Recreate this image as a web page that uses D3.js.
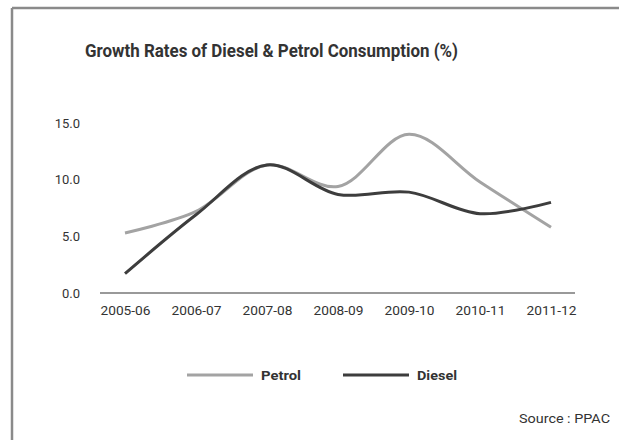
<!DOCTYPE html>
<html>
<head>
<meta charset="utf-8">
<script src="https://cdn.jsdelivr.net/npm/d3@7"></script>
<style>
  body { margin: 0; background: #fff; }
  text { font-family: "Roboto", "Liberation Sans", sans-serif; }
</style>
</head>
<body>
<script>
// data
var years = ["2005-06", "2006-07", "2007-08", "2008-09", "2009-10", "2010-11", "2011-12"];
var petrol = [5.3, 7.2, 11.3, 9.4, 14.0, 9.8, 5.8];
var diesel = [1.7, 6.9, 11.3, 8.7, 8.9, 7.0, 8.0];
var yTicks = [0, 5, 10, 15];

var width = 619, height = 440;

var svg = d3.select("body").append("svg")
    .attr("width", width)
    .attr("height", height);

// frame
svg.append("line").attr("x1", 12).attr("x2", width).attr("y1", 8).attr("y2", 8)
    .attr("stroke", "#8a8a8a").attr("stroke-width", 2.5);
svg.append("line").attr("x1", 12).attr("x2", 12).attr("y1", 8).attr("y2", 440)
    .attr("stroke", "#8a8a8a").attr("stroke-width", 2.5);

// title (condensed look)
svg.append("text")
    .attr("x", 85).attr("y", 57)
    .attr("font-size", "18px")
    .attr("font-weight", "bold")
    .attr("fill", "#333")
    .attr("textLength", 373)
    .attr("lengthAdjust", "spacingAndGlyphs")
    .text("Growth Rates of Diesel & Petrol Consumption (%)");

var x = d3.scalePoint().domain(years).range([125, 551]);
var y = d3.scaleLinear().domain([0, 15]).range([293, 123]);

// x axis
svg.append("line").attr("x1", 100).attr("x2", 575).attr("y1", y(0)).attr("y2", y(0))
    .attr("stroke", "#777").attr("stroke-width", 1.5);

var xAxis = svg.append("g")
    .attr("transform", "translate(0," + y(0) + ")")
    .call(d3.axisBottom(x).tickSize(0).tickPadding(13));
xAxis.select(".domain").remove();
xAxis.selectAll("text")
    .attr("font-size", "13px").attr("fill", "#333")
    .attr("textLength", 50).attr("lengthAdjust", "spacingAndGlyphs")
    .style("font-family", "Roboto, sans-serif");

// y axis
var yAxis = svg.append("g")
    .attr("transform", "translate(80,0)")
    .call(d3.axisLeft(y).tickValues(yTicks).tickFormat(d3.format(".1f")).tickSize(0).tickPadding(0));
yAxis.select(".domain").remove();
yAxis.selectAll("text").attr("font-size", "13px").attr("fill", "#333")
    .style("font-family", "Roboto, sans-serif");

var line = d3.line()
    .x(function(d, i) { return x(years[i]); })
    .y(function(d) { return y(d); })
    .curve(d3.curveCatmullRom.alpha(0.5));

svg.append("path").datum(petrol)
    .attr("d", line)
    .attr("fill", "none")
    .attr("stroke", "#a3a3a3")
    .attr("stroke-width", 3);

svg.append("path").datum(diesel)
    .attr("d", line)
    .attr("fill", "none")
    .attr("stroke", "#3d3d3d")
    .attr("stroke-width", 3);

// legend
var legend = [
  {name: "Petrol", color: "#a3a3a3", x: 187},
  {name: "Diesel", color: "#3d3d3d", x: 343}
];
legend.forEach(function(l) {
  svg.append("line").attr("x1", l.x).attr("x2", l.x + 66).attr("y1", 375).attr("y2", 375)
      .attr("stroke", l.color).attr("stroke-width", 3);
  svg.append("text").attr("x", l.x + 74).attr("y", 380)
      .attr("font-size", "13px").attr("font-weight", "bold").attr("fill", "#333")
      .attr("textLength", 40).attr("lengthAdjust", "spacingAndGlyphs")
      .text(l.name);
});

// source
svg.append("text")
    .attr("x", 610).attr("y", 423)
    .attr("text-anchor", "end")
    .attr("font-size", "13px")
    .attr("fill", "#333")
    .attr("textLength", 91).attr("lengthAdjust", "spacingAndGlyphs")
    .text("Source : PPAC");
</script>
</body>
</html>
